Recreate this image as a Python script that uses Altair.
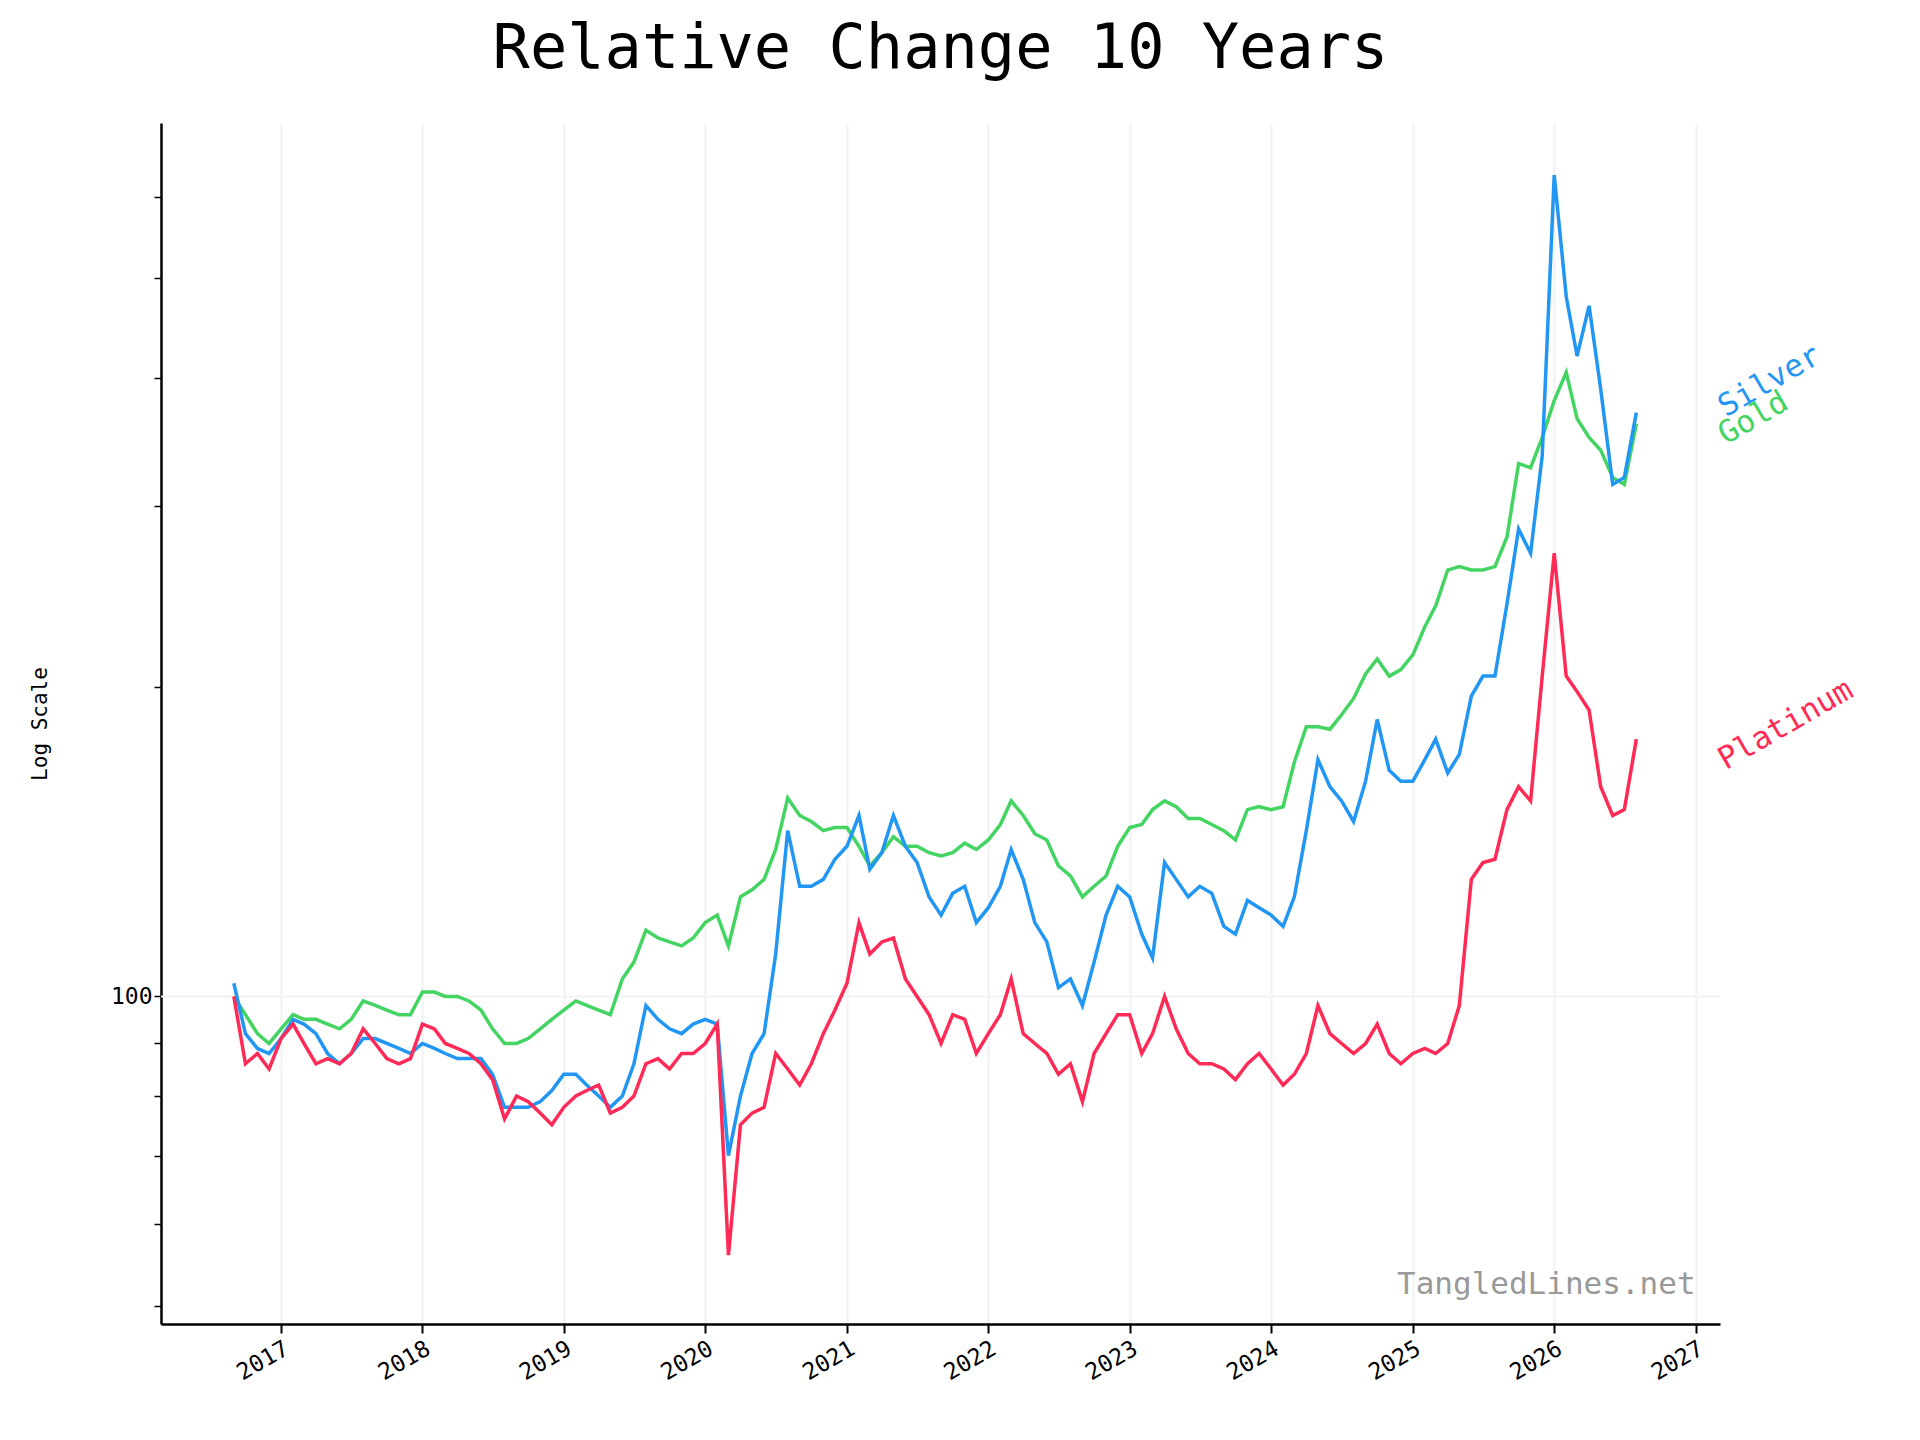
#!/usr/bin/env python3
"""Relative change of gold, silver and platinum over 10 years (log scale)."""

import pandas as pd
import altair as alt

FONT = "DejaVu Sans Mono"
COLORS = {"Silver": "#2196F3", "Gold": "#44D462", "Platinum": "#FF2A55"}

# monthly values, Sep 2016 .. Aug 2026 (index 100 at start)
GOLD = [
    100, 96, 92, 90,
    93, 96, 95, 95, 94, 93, 95, 99, 98, 97, 96, 96,
    101, 101, 100, 100, 99, 97, 93, 90, 90, 91, 93, 95,
    97, 99, 98, 97, 96, 104, 108, 116, 114, 113, 112, 114,
    118, 120, 112, 125, 127, 130, 139, 156, 150, 148, 145, 146,
    146, 140, 134, 138, 143, 140, 140, 138, 137, 138, 141, 139,
    142, 147, 155, 150, 144, 142, 134, 131, 125, 128, 131, 140,
    146, 147, 152, 155, 153, 149, 149, 147, 145, 142, 152, 153,
    152, 153, 169, 183, 183, 182, 188, 195, 206, 213, 205, 208,
    215, 229, 240, 260, 262, 260, 260, 262, 280, 330, 327, 350,
    380, 405, 365, 350, 340, 320, 315, 361,
]
SILVER = [
    103, 92, 89, 88,
    91, 95, 94, 92, 88, 86, 88, 91, 91, 90, 89, 88,
    90, 89, 88, 87, 87, 87, 84, 78, 78, 78, 79, 81,
    84, 84, 82, 80, 78, 80, 86, 98, 95, 93, 92, 94,
    95, 94, 70, 80, 88, 92, 110, 145, 128, 128, 130, 136,
    140, 150, 133, 138, 150, 140, 135, 125, 120, 126, 128, 118,
    122, 128, 139, 130, 118, 113, 102, 104, 98, 108, 120, 128,
    125, 115, 109, 135, 130, 125, 128, 126, 117, 115, 124, 122,
    120, 117, 125, 145, 170, 160, 155, 148, 162, 186, 166, 162,
    162, 170, 178, 165, 172, 196, 205, 205, 241, 285, 270, 336,
    630, 480, 420, 470, 390, 315, 320, 370,
]
PLATINUM = [
    100, 86, 88, 85,
    91, 94, 90, 86, 87, 86, 88, 93, 90, 87, 86, 87,
    94, 93, 90, 89, 88, 86, 83, 76, 80, 79, 77, 75,
    78, 80, 81, 82, 77, 78, 80, 86, 87, 85, 88, 88,
    90, 94, 56, 75, 77, 78, 88, 85, 82, 86, 92, 97,
    103, 118, 110, 113, 114, 104, 100, 96, 90, 96, 95, 88,
    92, 96, 104, 92, 90, 88, 84, 86, 79, 88, 92, 96,
    96, 88, 92, 100, 93, 88, 86, 86, 85, 83, 86, 88,
    85, 82, 84, 88, 98, 92, 90, 88, 90, 94, 88, 86,
    88, 89, 88, 90, 98, 130, 135, 136, 152, 160, 155, 205,
    270, 205, 198, 190, 160, 150, 152, 178,
]

LABELS = ["Silver", "Gold", "Platinum"]
LABEL_VALUES = [366, 344, 166]
LABEL_DATE = "2027-03-20"

dates = pd.date_range("2016-09-01", periods=len(GOLD), freq="MS")
rows = []
for name, vals in [("Gold", GOLD), ("Silver", SILVER), ("Platinum", PLATINUM)]:
    for d, v in zip(dates, vals):
        rows.append({"date": d, "metal": name, "value": v})
df = pd.DataFrame(rows)

x_scale = alt.Scale(domain=["2016-02-26", "2027-03-05"])
y_scale = alt.Scale(type="log", domain=[48, 708])
color = alt.Color("metal:N", scale=alt.Scale(domain=list(COLORS), range=list(COLORS.values())), legend=None)

lines = alt.Chart(df).mark_line(strokeWidth=3.5, clip=True).encode(
    x=alt.X("date:T", scale=x_scale, title=None,
            axis=alt.Axis(format="%Y", tickCount={"interval": "year", "step": 1},
                          labelAngle=-30, labelAlign="right", labelBaseline="top",
                          grid=True, gridColor="#f2f2f2", gridWidth=2,
                          tickSize=9, tickWidth=2, labelFontSize=23, labelPadding=4)),
    y=alt.Y("value:Q", scale=y_scale, title="Log Scale",
            axis=alt.Axis(values=[50, 60, 70, 80, 90, 100, 200, 300, 400, 500, 600],
                          labelExpr="datum.value == 100 ? '100' : ''",
                          grid=False, tickSize=7, tickWidth=1.5,
                          labelFontSize=23, titleFontSize=21, titleFontWeight="normal",
                          titlePadding=60)),
    color=color,
    detail="metal:N",
)

hline = alt.Chart(pd.DataFrame({"v": [100]})).mark_rule(color="#f2f2f2", strokeWidth=2).encode(
    y=alt.Y("v:Q", scale=y_scale)
)

lab_df = pd.DataFrame({"metal": LABELS, "value": LABEL_VALUES, "date": [LABEL_DATE] * 3})
labels = alt.Chart(lab_df).mark_text(
    align="left", baseline="alphabetic", angle=330, fontSize=31, font=FONT, clip=False
).encode(
    x=alt.X("date:T", scale=x_scale), y=alt.Y("value:Q", scale=y_scale),
    text="metal:N", color=color,
)

wm = alt.Chart(pd.DataFrame({"date": ["2027-01-01"], "value": [51.3], "t": ["TangledLines.net"]})).mark_text(
    align="right", baseline="alphabetic", fontSize=31, font=FONT, color="#999999"
).encode(x=alt.X("date:T", scale=x_scale), y=alt.Y("value:Q", scale=y_scale), text="t:N")

chart = (hline + lines + labels + wm).properties(
    width=1559, height=1201,
    title=alt.TitleParams("Relative Change 10 Years", fontSize=62, font=FONT,
                          fontWeight="normal", offset=42),
    autosize=alt.AutoSizeParams(type="none"),
    padding={"left": 153, "top": 115, "right": 192, "bottom": 108},
).configure_view(stroke=None).configure_axis(
    domainColor="black", domainWidth=2.5, tickColor="black", labelColor="black",
    labelFont=FONT, titleFont=FONT, titleColor="black",
)

chart.save("out.html", embed_options={"renderer": "svg", "actions": False})
